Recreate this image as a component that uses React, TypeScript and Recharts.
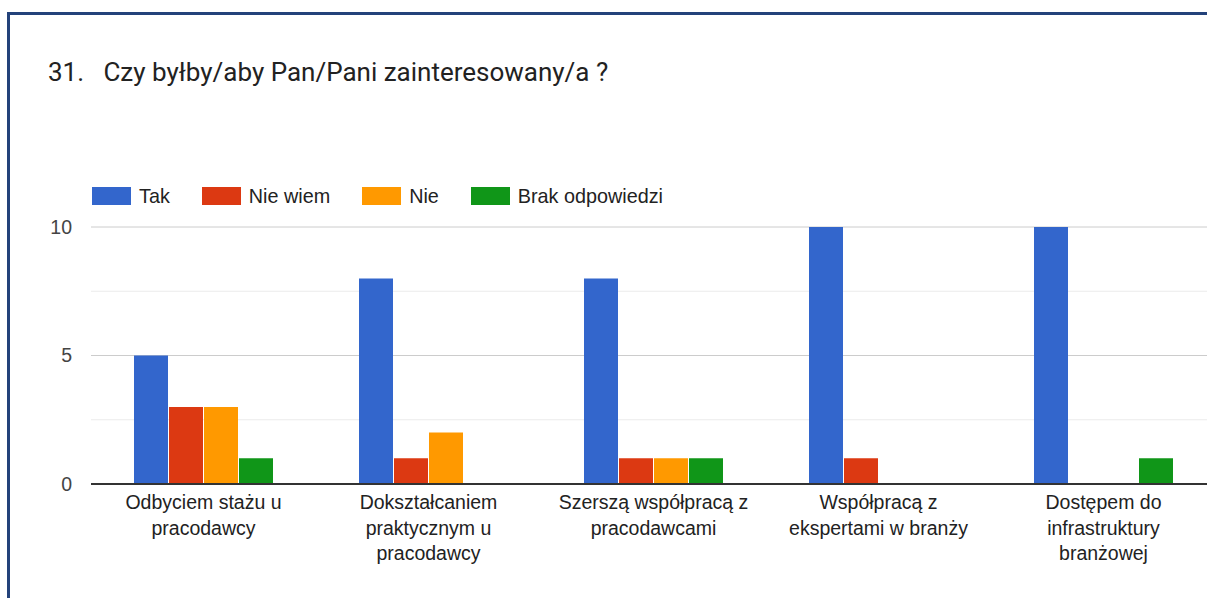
import React from "react";
import { BarChart, Bar, XAxis, YAxis, CartesianGrid } from "recharts";

const categories = [
  "Odbyciem stażu u\npracodawcy",
  "Dokształcaniem\npraktycznym u\npracodawcy",
  "Szerszą współpracą z\npracodawcami",
  "Współpracą z\nekspertami w branży",
  "Dostępem do\ninfrastruktury\nbranżowej",
];
const seriesNames = ["Tak", "Nie wiem", "Nie", "Brak odpowiedzi"];
const seriesKeys = ["tak", "nieWiem", "nie", "brak"];
const seriesColors = ["#3366cc", "#dc3912", "#ff9900", "#109618"];
const takValues = [5, 8, 8, 10, 10];
const nieWiemValues = [3, 1, 1, 1, 0];
const nieValues = [3, 2, 1, 0, 0];
const brakValues = [1, 0, 1, 0, 1];
const yTicks = [0, 5, 10];
const minorTicks = [2.5, 7.5];
const title = "31.   Czy byłby/aby Pan/Pani zainteresowany/a ?";

const data = categories.map((c, i) => ({
  category: c,
  tak: takValues[i],
  nieWiem: nieWiemValues[i],
  nie: nieValues[i],
  brak: brakValues[i],
}));

const FONT = "Arial, 'Liberation Sans', sans-serif";

const XTick = (props: any) => {
  const { x, y, payload } = props;
  const lines = String(payload.value).split("\n");
  return (
    <text x={x} y={y} textAnchor="middle" fill="#222222" fontSize={19.5} fontFamily={FONT}>
      {lines.map((l, i) => (
        <tspan key={i} x={x} y={y + 23 + i * 25.5}>
          {l}
        </tspan>
      ))}
    </text>
  );
};

export default function App() {
  return (
    <div
      style={{
        position: "absolute",
        top: 0,
        left: 0,
        width: 1207,
        height: 598,
        overflow: "hidden",
        background: "#ffffff",
      }}
    >
      <div
        style={{
          position: "absolute",
          left: 7,
          top: 12,
          width: 1300,
          height: 700,
          borderLeft: "3px solid #23427a",
          borderTop: "3px solid #23427a",
        }}
      />
      <div
        style={{
          position: "absolute",
          left: 48,
          top: 55,
          fontFamily: "Roboto, sans-serif",
          fontSize: 26,
          color: "#222222",
          whiteSpace: "pre",
          lineHeight: "34px",
        }}
      >
        {title}
      </div>
      <div
        style={{
          position: "absolute",
          left: 92,
          top: 183,
          display: "flex",
          alignItems: "center",
          fontFamily: FONT,
          fontSize: 19.8,
          color: "#222222",
          whiteSpace: "nowrap",
        }}
      >
        {seriesNames.map((n, i) => (
          <div key={n} style={{ display: "flex", alignItems: "center", marginRight: 32 }}>
            <div style={{ width: 39, height: 18, background: seriesColors[i], marginRight: 8 }} />
            <span style={{ lineHeight: "26px" }}>{n}</span>
          </div>
        ))}
      </div>
      <div style={{ position: "absolute", left: 0, top: 0 }}>
        <BarChart
          width={1230}
          height={598}
          data={data}
          margin={{ top: 227, right: 14, bottom: 14, left: 0 }}
          barSize={34}
          barGap={1}
        >
          <CartesianGrid vertical={false} horizontalValues={minorTicks} stroke="#ebebeb" />
          <CartesianGrid vertical={false} horizontalValues={yTicks} stroke="#cccccc" />
          <YAxis
            domain={[0, 10]}
            ticks={yTicks}
            width={91}
            axisLine={false}
            tickLine={false}
            tickSize={0}
            tickMargin={19}
            tick={{ fill: "#444444", fontSize: 19.5, fontFamily: FONT }}
          />
          <XAxis
            dataKey="category"
            height={100}
            interval={0}
            axisLine={{ stroke: "#333333", strokeWidth: 2 }}
            tickLine={false}
            tickSize={0}
            tick={<XTick />}
          />
          {seriesKeys.map((k, i) => (
            <Bar key={k} dataKey={k} name={seriesNames[i]} fill={seriesColors[i]} isAnimationActive={false} />
          ))}
        </BarChart>
      </div>
    </div>
  );
}
